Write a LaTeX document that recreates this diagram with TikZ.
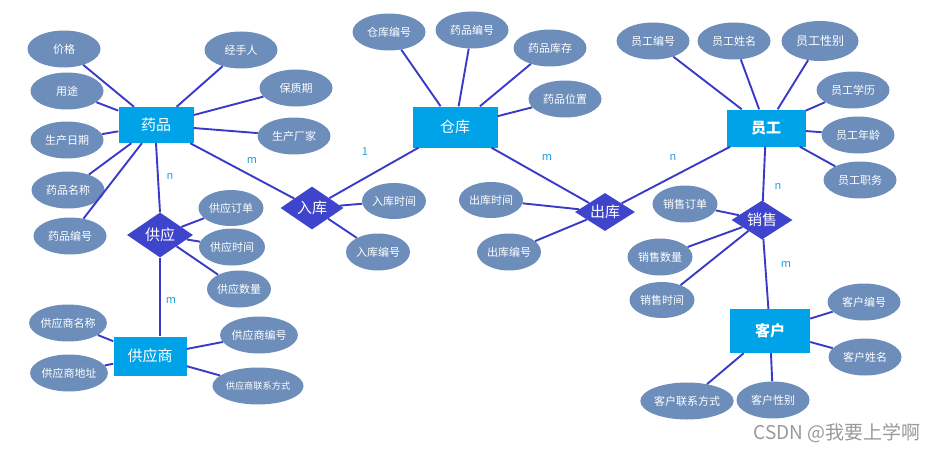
\documentclass[tikz,border=0pt]{standalone}
\usepackage{fontspec}
\setmainfont{Noto Sans CJK SC}
\usepackage{tikz}
\usepackage{xcolor}
\usetikzlibrary{shapes.geometric}
\definecolor{entityBlue}{RGB}{0,162,232}
\definecolor{relationBlue}{RGB}{63,68,204}
\definecolor{attrGrey}{RGB}{109,142,187}
\definecolor{linkBlue}{RGB}{58,58,200}
\definecolor{cardBlue}{RGB}{30,160,230}

\begin{document}
\begin{tikzpicture}[x=1pt,y=-1pt,
    entity/.style={rectangle,fill=entityBlue,text=white,inner sep=0pt,font=\fontsize{15}{15}\selectfont},
    relation/.style={diamond,shape aspect=1.5,fill=relationBlue,text=white,inner sep=0pt,font=\fontsize{15}{15}\selectfont},
    attr/.style={ellipse,fill=attrGrey,text=white,inner sep=0pt,minimum width=73pt,minimum height=37pt,font=\fontsize{11}{11}\selectfont},
    card/.style={text=cardBlue,font=\fontsize{11}{11}\selectfont},
    link/.style={draw=linkBlue,line width=1.9pt}]
                    \useasboundingbox (0,0) rectangle (939,452);

                    \node[entity,minimum width=75pt,minimum height=36pt] (drug) at (156,125) {药品};
                    \node[entity,minimum width=73pt,minimum height=39pt] (supplier) at (150,356) {供应商};
                    \node[entity,minimum width=85pt,minimum height=41pt] (store) at (455,127) {仓库};
                    \node[entity,minimum width=79pt,minimum height=37pt] (staff) at (766,128) {\bfseries 员工};
                    \node[entity,minimum width=80pt,minimum height=44pt] (client) at (770,331) {\bfseries 客户};

                    \node[relation,minimum width=66pt,minimum height=45pt] (supply) at (160,235) {供应};
                    \node[relation,minimum width=63pt,minimum height=43pt] (stockin) at (312,208) {入库};
                    \node[relation,minimum width=60pt,minimum height=38pt] (stockout) at (605,212) {出库};
                    \node[relation,minimum width=61pt,minimum height=39pt] (sale) at (762,220) {销售};

                    \node[attr] (price) at (64,49) {价格};
                    \node[attr] (usage) at (67,91) {用途};
                    \node[attr] (proddate) at (67,140) {生产日期};
                    \node[attr] (drugname) at (68,190) {药品名称};
                    \node[attr] (drugno) at (70,236) {药品编号};
                    \node[attr] (handler) at (241,50) {经手人};
                    \node[attr] (shelflife) at (296,88) {保质期};
                    \node[attr] (maker) at (294,136) {生产厂家};

                    \node[attr,minimum width=65pt,minimum height=36pt] (supplyorder) at (231,208) {供应订单};
                    \node[attr,minimum width=66pt] (supplytime) at (232,247) {供应时间};
                    \node[attr,minimum width=64pt] (supplyqty) at (239,289) {供应数量};

                    \node[attr] (suppliername) at (68,323) {供应商名称};
                    \node[attr] (supplieraddr) at (69,373) {供应商地址};
                    \node[attr] (supplierno) at (259,335) {供应商编号};
                    \node[attr,font=\fontsize{9.2}{9.2}\selectfont] (suppliertel) at (258,386) {供应商联系方式};

                    \node[attr,minimum width=64pt,minimum height=36pt] (intime) at (394,201) {入库时间};
                    \node[attr,minimum width=64pt] (inno) at (378,252) {入库编号};

                    \node[attr] (storeno) at (389,32) {仓库编号};
                    \node[attr] (storedrugno) at (472,30) {药品编号};
                    \node[attr] (stock) at (550,48) {药品库存};
                    \node[attr] (place) at (565,99) {药品位置};

                    \node[attr,minimum width=64pt,minimum height=36pt] (outtime) at (491,200) {出库时间};
                    \node[attr,minimum width=64pt] (outno) at (509,252) {出库编号};

                    \node[attr] (staffno) at (653,41) {员工编号};
                    \node[attr] (staffname) at (734,41) {员工姓名};
                    \node[attr,minimum width=77pt,minimum height=40pt,font=\fontsize{12}{12}\selectfont] (staffsex) at (820,41) {员工性别};
                    \node[attr] (staffedu) at (853,90) {员工学历};
                    \node[attr] (staffage) at (858,135) {员工年龄};
                    \node[attr] (staffjob) at (860,180) {员工职务};

                    \node[attr,minimum width=65pt] (saleorder) at (685,204) {销售订单};
                    \node[attr,minimum width=65pt] (saleqty) at (660,257) {销售数量};
                    \node[attr,minimum width=65pt,minimum height=36pt] (saletime) at (662,300) {销售时间};

                    \node[attr] (clientno) at (864,302) {客户编号};
                    \node[attr] (clientname) at (865,357) {客户姓名};
                    \node[attr] (clienttel) at (687,401) {客户联系方式};
                    \node[attr] (clientsex) at (773,400) {客户性别};

                    \draw[link] (drug) -- (price);
                    \draw[link] (drug) -- (usage);
                    \draw[link] (drug) -- (proddate);
                    \draw[link] (drug) -- (drugname);
                    \draw[link] (drug) -- (drugno);
                    \draw[link] (drug) -- (handler);
                    \draw[link] (drug) -- (shelflife);
                    \draw[link] (drug) -- (maker);
                    \draw[link] (drug.south) -- (supply.north);
                    \draw[link] (drug) -- (stockin);

                    \draw[link] (supply) -- (supplyorder);
                    \draw[link] (supply) -- (supplytime);
                    \draw[link] (supply) -- (supplyqty);
                    \draw[link] (supply.south) -- (supply.south |- supplier.north);

                    \draw[link] (supplier) -- (suppliername);
                    \draw[link] (supplier) -- (supplieraddr);
                    \draw[link] (supplier) -- (supplierno);
                    \draw[link] (supplier) -- (suppliertel);

                    \draw[link] (stockin) -- (intime);
                    \draw[link] (stockin) -- (inno);
                    \draw[link] (stockin) -- (store);

                    \draw[link] (store) -- (storeno);
                    \draw[link] (store) -- (storedrugno);
                    \draw[link] (store) -- (stock);
                    \draw[link] (store) -- (place);
                    \draw[link] (store) -- (stockout);

                    \draw[link] (stockout) -- (outtime);
                    \draw[link] (stockout) -- (outno);
                    \draw[link] (stockout) -- (staff);

                    \draw[link] (staff) -- (staffno);
                    \draw[link] (staff) -- (staffname);
                    \draw[link] (staff) -- (staffsex);
                    \draw[link] (staff) -- (staffedu);
                    \draw[link] (staff) -- (staffage);
                    \draw[link] (staff) -- (staffjob);
                    \draw[link] (staff) -- (sale);

                    \draw[link] (sale) -- (saleorder);
                    \draw[link] (sale) -- (saleqty);
                    \draw[link] (sale) -- (saletime);
                    \draw[link] (sale) -- (client);

                    \draw[link] (client) -- (clientno);
                    \draw[link] (client) -- (clientname);
                    \draw[link] (client) -- (clienttel);
                    \draw[link] (client) -- (clientsex);

                    \node[card] (drugsupply) at (170,176) {n};
                    \node[card] (drugin) at (252,160) {m};
                    \node[card] (supplysupplier) at (171,300) {m};
                    \node[card] (instore) at (365,152) {1};
                    \node[card] (storeout) at (547,157) {m};
                    \node[card] (outstaff) at (673,157) {n};
                    \node[card] (staffsale) at (778,186) {n};
                    \node[card] (saleclient) at (786,264) {m};

                    \node[text=black!40,font=\fontsize{19}{19}\selectfont] (mark) at (837,433) {CSDN @我要上学啊};
                \end{tikzpicture}
\end{document}
